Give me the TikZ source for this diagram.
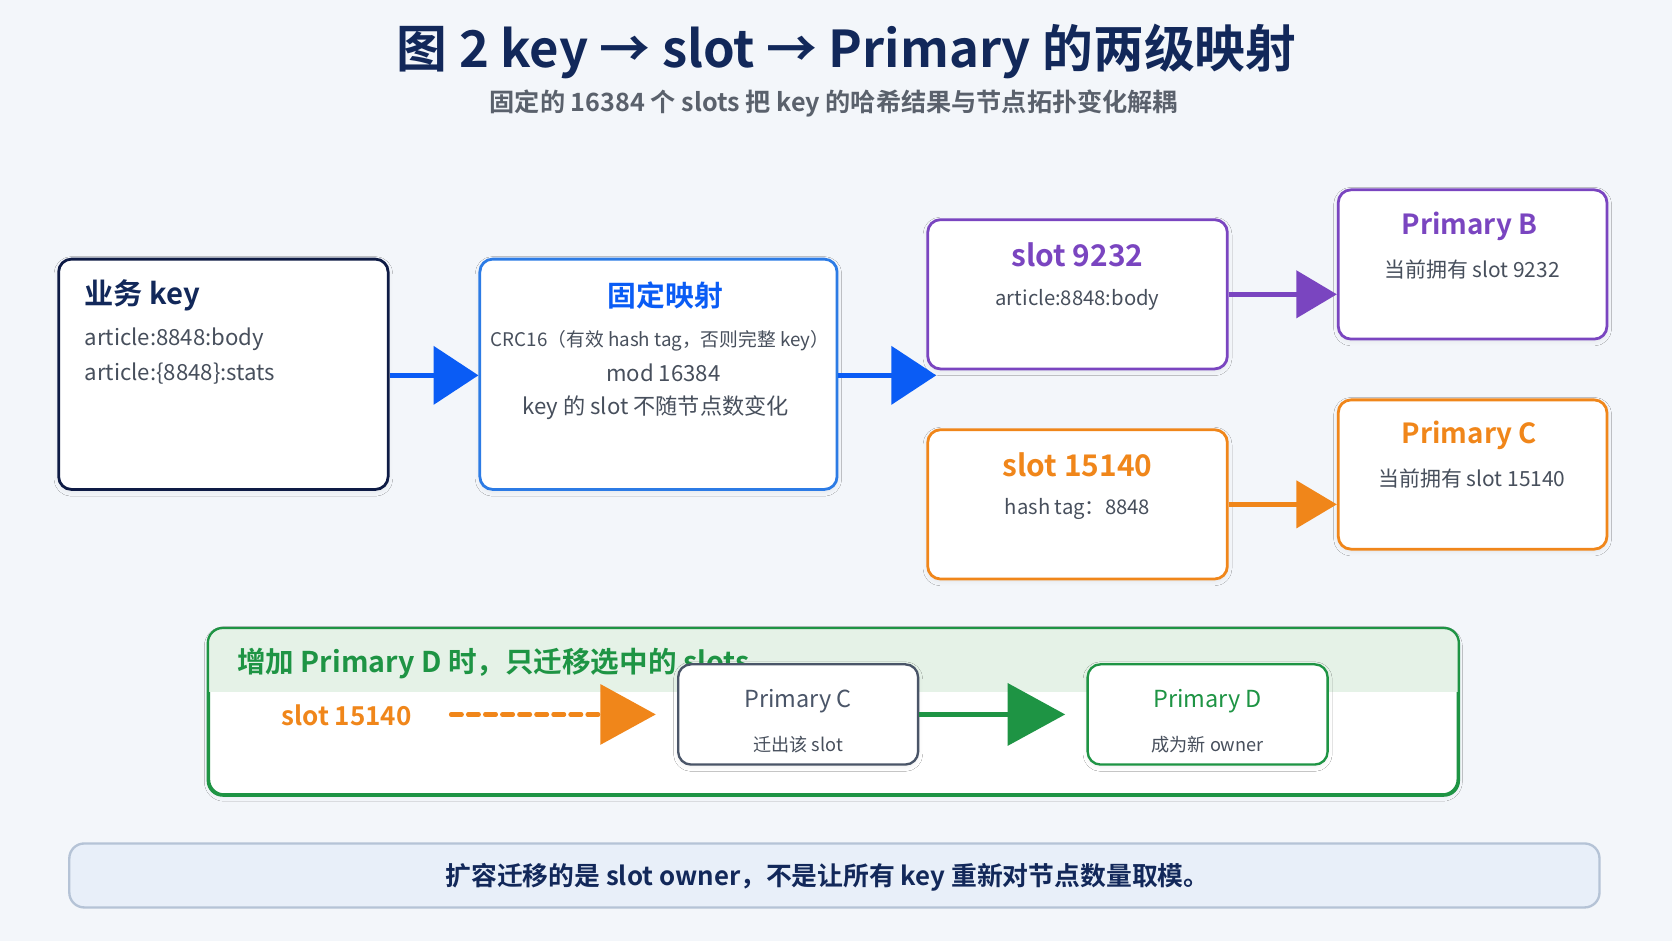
\documentclass[tikz,border=0pt]{standalone}
\usepackage{fontspec}
\setmainfont{Noto Sans CJK SC}[BoldFont={Noto Sans CJK SC Bold}]
\usetikzlibrary{arrows.meta,shadows.blur}
\definecolor{bg}{HTML}{F3F6FA}
\definecolor{navy}{HTML}{12285A}
\definecolor{navyb}{HTML}{0E1B45}
\definecolor{blu}{HTML}{0A5CF5}
\definecolor{blub}{HTML}{2C7BE5}
\definecolor{pur}{HTML}{7A45C0}
\definecolor{org}{HTML}{F0861A}
\definecolor{grn}{HTML}{1E9444}
\definecolor{band}{HTML}{E5F2E7}
\definecolor{txt}{HTML}{474F5C}
\definecolor{bot}{HTML}{E8EFF9}
\definecolor{botb}{HTML}{B5C3D6}
\definecolor{inner}{HTML}{4A5568}
\tikzset{
  card/.style={draw=#1, line width=1.3pt, rounded corners=6pt, fill=white,
    blur shadow={shadow blur steps=6, shadow xshift=0pt, shadow yshift=-1pt, shadow opacity=7}},
  hd/.style={font=\bfseries\fontsize{13}{15}\selectfont, text=#1, inner sep=0pt},
  bd/.style={font=\fontsize{9.5}{11}\selectfont, text=txt, inner sep=0pt},
  sm/.style={font=\fontsize{9.8}{11}\selectfont, text=txt, inner sep=0pt},
  conn/.style={line width=2.4pt, draw=#1, -{Triangle[length=21pt,width=27pt,fill=#1]}},
  connsm/.style={line width=2.2pt, draw=#1, -{Triangle[length=19pt,width=22pt,fill=#1]}},
}
\begin{document}
\begin{tikzpicture}[x=0.5pt,y=-0.5pt]
\useasboundingbox[fill=bg] (0,0) rectangle (1568,882);
% title
\node[font=\bfseries\fontsize{23.8}{28}\selectfont, text=navy, inner sep=0pt] (title) at (794,48) {图 2 key → slot → Primary 的两级映射};
\node[font=\bfseries\fontsize{11.8}{14}\selectfont, text=txt!90, inner sep=0pt] (sub) at (782,97) {固定的 16384 个 slots 把 key 的哈希结果与节点拓扑变化解耦};
% boxes
\node[card=navyb, minimum width=154.5pt, minimum height=108pt] (k) at (209.5,351) {};
\node[card=blub, minimum width=167.5pt, minimum height=108pt] (m) at (617.5,351) {};
\node[card=pur, minimum width=140.5pt, minimum height=70pt] (s1) at (1010.5,276) {};
\node[card=pur, minimum width=126pt, minimum height=70pt] (pb) at (1381,248) {};
\node[card=org, minimum width=140.5pt, minimum height=70pt] (s2) at (1010.5,473) {};
\node[card=org, minimum width=126pt, minimum height=70pt] (pc) at (1381,445) {};
% box texts
\node[hd=navy, font=\bfseries\fontsize{13.7}{16}\selectfont, anchor=west] (kt) at (79,277) {业务 key};
\node[bd, font=\fontsize{10.4}{12}\selectfont, anchor=west] (k1) at (79,318) {article:8848:body};
\node[bd, font=\fontsize{10.4}{12}\selectfont, anchor=west] (k2) at (79,350) {article:\{8848\}:stats};
\node[hd=blu, font=\bfseries\fontsize{13.5}{16}\selectfont] (mt) at (624,277) {固定映射};
\node[bd, font=\fontsize{8.8}{10}\selectfont] (m1) at (619,320) {CRC16（有效 hash tag，否则完整 key）};
\node[bd, font=\fontsize{10.4}{12}\selectfont] (m2) at (622,350) {mod 16384};
\node[bd, font=\fontsize{10.4}{12}\selectfont] (m3) at (615,382) {key 的 slot 不随节点数变化};
\node[hd=pur, font=\bfseries\fontsize{14}{16}\selectfont] (s1t) at (1010.5,239) {slot 9232};
\node[bd] (s1b) at (1010.5,281) {article:8848:body};
\node[hd=pur] (pbt) at (1378,212) {Primary B};
\node[sm] (pbb) at (1380.5,253) {当前拥有 slot 9232};
\node[hd=org, font=\bfseries\fontsize{14}{16}\selectfont] (s2t) at (1010.5,436) {slot 15140};
\node[bd] (s2b) at (1010.5,477) {hash tag：8848};
\node[hd=org] (pct) at (1378,408) {Primary C};
\node[sm] (pcb) at (1380.5,449) {当前拥有 slot 15140};
% connectors top
\coordinate (tipm) at (878,352);
\draw[conn=blu] (k.east |- 0,352) -- (m.west |- 0,352);
\draw[conn=blu] (m.east |- tipm) -- (tipm);
\draw[connsm=pur] (s1.east |- 0,276) -- (pb.west |- 0,276);
\draw[connsm=org] (s2.east |- 0,473) -- (pc.west |- 0,473);
% green panel
\node[draw=grn, fill=white, line width=1.1pt, rounded corners=7pt, minimum width=585.5pt, minimum height=77.5pt,
  blur shadow={shadow blur steps=6, shadow xshift=0pt, shadow yshift=-1pt, shadow opacity=5}] (panel) at (781.5,667.5) {};
\begin{scope}
\clip[rounded corners=7pt] (panel.south west) rectangle (panel.north east);
\fill[band] (panel.north west) rectangle ([yshift=-30pt]panel.north east);
\end{scope}
\draw[grn, line width=1.1pt, rounded corners=7pt] (panel.south west) rectangle (panel.north east);
\node[hd=grn, font=\bfseries\fontsize{13.4}{16}\selectfont, anchor=west] (pt) at (222,622) {增加 Primary D 时，只迁移选中的 slots};
\node[hd=org, font=\bfseries\fontsize{12.2}{15}\selectfont] (sl) at (325,671) {slot 15140};
\node[card=inner, line width=1.1pt, rounded corners=6pt, minimum width=112.5pt, minimum height=47pt] (ic) at (748.5,670) {};
\node[card=grn, line width=1.1pt, rounded corners=6pt, minimum width=112.5pt, minimum height=47pt] (id) at (1132.5,670) {};
\node[font=\fontsize{11}{13}\selectfont, text=inner, inner sep=0pt] (ict) at (748.5,658) {Primary C};
\node[font=\fontsize{8.5}{10}\selectfont, text=txt, inner sep=0pt] (icb) at (748.5,698) {迁出该 slot};
\node[font=\fontsize{11}{13}\selectfont, text=grn, inner sep=0pt] (idt) at (1132.5,658) {Primary D};
\node[font=\fontsize{8.5}{10}\selectfont, text=txt, inner sep=0pt] (idb) at (1132.5,698) {成为新 owner};
\coordinate (ds) at (423,670);
\coordinate (de) at (615,670);
\draw[org, line width=2pt, line cap=round, dash pattern=on 5pt off 3pt, -{Triangle[length=26pt,width=28pt,fill=org]}] (ds) -- (de);
\draw[grn, line width=2pt, -{Triangle[length=27pt,width=29pt,fill=grn]}, shorten >=10pt] (ic.east) -- (id.west);
% bottom
\node[draw=botb, line width=1.1pt, fill=bot, rounded corners=7pt, minimum width=717.5pt, minimum height=30pt] (bb) at (782.5,821) {};
\node[font=\bfseries\fontsize{12.1}{14}\selectfont, text=navy, inner sep=0pt] (bt) at (776,823) {扩容迁移的是 slot owner，不是让所有 key 重新对节点数量取模。};
\end{tikzpicture}
\end{document}
